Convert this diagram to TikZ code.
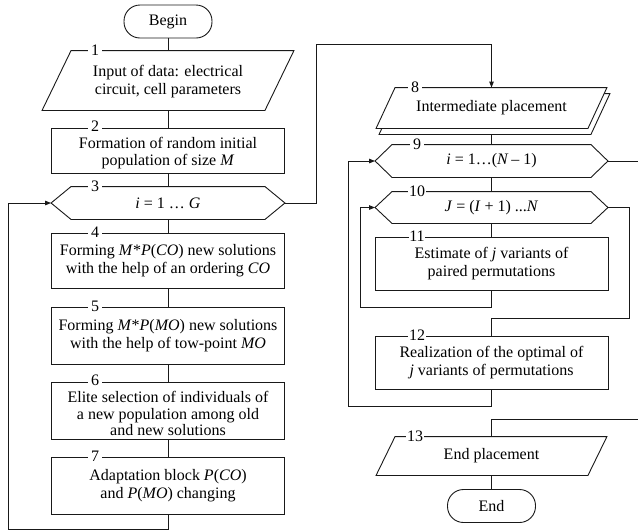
\documentclass[tikz,border=0pt]{standalone}
\usepackage{fontspec}
\setmainfont{Liberation Serif}
\usetikzlibrary{arrows.meta}
\begin{document}
\begin{tikzpicture}[x=1pt,y=-1pt,
  line width=0.9pt, draw=black!90,
  txt/.style={align=center, inner sep=0pt, font=\fontsize{16}{18}\selectfont},
  boxn/.style={txt, draw, rectangle, minimum width=233pt},
  term/.style={txt, draw, rectangle, rounded corners=16pt, minimum width=88pt, minimum height=33pt},
  shp/.style={draw=black!90, fill=white},
  num/.style={fill=white, inner xsep=3pt, inner ysep=0pt, text height=10.5pt, text depth=0pt, font=\fontsize{16}{18}\selectfont},
  numb/.style={num, inner xsep=0.6pt},
  conn/.style={draw=black!90},
  arr/.style={conn, -{Triangle[length=6pt,width=4.5pt]}}]
\useasboundingbox (0,0) rectangle (638,531);
\newcommand\hexshape[2]{\draw[shp] (#1.west) -- ([xshift=#2]#1.north west) -- ([xshift=-#2]#1.north east) -- (#1.east) -- ([xshift=-#2]#1.south east) -- ([xshift=#2]#1.south west) -- cycle;}
\newcommand\parashape[2]{\draw[shp] ([xshift=#2]#1.north west) -- ([xshift=#2]#1.north east) -- ([xshift=-#2]#1.south east) -- ([xshift=-#2]#1.south west) -- cycle;}

% ---------- left column ----------
\node[term] (begin) at (168,21.5) {Begin};

\node[txt, minimum width=222pt, minimum height=59pt] (n1) at (168,80.5) {};
\parashape{n1}{14.5}
\node[txt] (t1) at ([yshift=-1pt]n1) {Input of data: electrical\\circuit, cell parameters};
\node[num] (l1) at (95,50) {1};

\node[boxn, minimum height=45pt] (n2) at (168,150.5) {};
\node[txt, font=\fontsize{16}{17.5}\selectfont] (t2) at ([yshift=-2.5pt]n2) {Formation of random initial\\population of size \textit{M}};
\node[num] (l2) at (95,126.5) {2};

\node[txt, minimum width=233pt, minimum height=32pt] (n3) at (168,203) {};
\hexshape{n3}{20}
\node[txt] (t3) at (n3) {\textit{i} = 1 … \textit{G}};
\node[num] (l3) at (95,186.5) {3};

\node[boxn, minimum height=55pt] (n4) at (168,260.5) {Forming \textit{M}*\textit{P}(\textit{CO}) new solutions\\with the help of an ordering \textit{CO}};
\node[num] (l4) at (95,232.5) {4};

\node[boxn, minimum height=57pt] (n5) at (168,335.5) {Forming \textit{M}*\textit{P}(\textit{MO}) new solutions\\with the help of tow-point \textit{MO}};
\node[num] (l5) at (95,306.5) {5};

\node[boxn, minimum height=57pt] (n6) at (168,410.5) {};
\node[txt, font=\fontsize{16}{16.5}\selectfont] (t6) at ([yshift=-3pt]n6) {Elite selection of individuals of\\a new population among old\\and new solutions};
\node[num] (l6) at (95,380.5) {6};

\node[boxn, minimum height=57pt] (n7) at (168,485.5) {Adaptation block \textit{P}(\textit{CO})\\and \textit{P}(\textit{MO}) changing};
\node[num] (l7) at (95,456.5) {7};

% ---------- right column ----------
\node[txt, minimum width=211pt, minimum height=40pt] (n8) at (491.5,108) {};
\draw[shp] ([shift={(12.5,6)}]n8.north west) -- ([shift={(12.5,6)}]n8.north east) -- ([shift={(-6.5,6)}]n8.south east) -- ([shift={(-6.5,6)}]n8.south west) -- cycle;
\parashape{n8}{9.5}
\node[txt] (t8) at (n8) {Intermediate placement};
\node[num] (l8) at (415,87.5) {8};

\node[txt, minimum width=232pt, minimum height=32pt] (n9) at (491.5,161) {};
\hexshape{n9}{17}
\node[txt] (t9) at (n9) {\textit{i} = 1…(\textit{N}\,– 1)};
\node[num] (l9) at (417,144.5) {9};

\node[txt, minimum width=232pt, minimum height=31pt] (n10) at (491.5,207.5) {};
\hexshape{n10}{17}
\node[txt] (t10) at (n10) {\textit{J} = (\textit{I} + 1) ...\textit{N}};
\node[numb] (l10) at (417,191.5) {10};

\node[boxn, minimum height=53pt] (n11) at (491.5,263.5) {Estimate of \textit{j} variants of\\paired permutations};
\node[numb] (l11) at (417,236.5) {11};

\node[boxn, minimum height=53pt] (n12) at (491.5,362.5) {Realization of the optimal of\\\textit{j} variants of permutations};
\node[numb] (l12) at (417,335.5) {12};

\node[txt, minimum width=211pt, minimum height=38pt] (n13) at (491.5,456) {};
\parashape{n13}{9.5}
\node[txt] (t13) at (n13) {End placement};
\node[numb] (l13) at (415,436.5) {13};

\node[term] (end) at (491.5,506) {End};

% ---------- connectors ----------
\draw[conn] (begin.south) -- (n1.north);
\draw[conn] (n1.south) -- (n2.north);
\draw[conn] (n2.south) -- (n3.north);
\draw[conn] (n3.south) -- (n4.north);
\draw[conn] (n4.south) -- (n5.north);
\draw[conn] (n5.south) -- (n6.north);
\draw[conn] (n6.south) -- (n7.north);

\coordinate (lb) at (8,529);
\draw[arr] (n7.south) |- (lb) |- (n3.west);

\coordinate (rt) at (316,44);
\draw[arr] (n3.east) -| (rt) -| (n8.north);

\draw[conn] ([yshift=-6pt]n8.south) -- (n9.north);
\draw[conn] (n9.south) -- (n10.north);
\draw[conn] (n10.south) -- (n11.north);

\coordinate (c11) at (360,307);
\draw[arr] (n11.south) |- (c11) |- (n10.west);

\coordinate (c10) at (629,318);
\draw[conn] (n10.east) -| (c10) -| (n12.north);

\coordinate (c12) at (348,406);
\draw[arr] (n12.south) |- (c12) |- (n9.west);

\coordinate (e9) at (638,161);
\draw[conn] (n9.east) -- (e9);

\coordinate (e13) at (638,419);
\draw[conn] (e13) -| (n13.north);

\draw[conn] (n13.south) -- (end.north);
\end{tikzpicture}
\end{document}
